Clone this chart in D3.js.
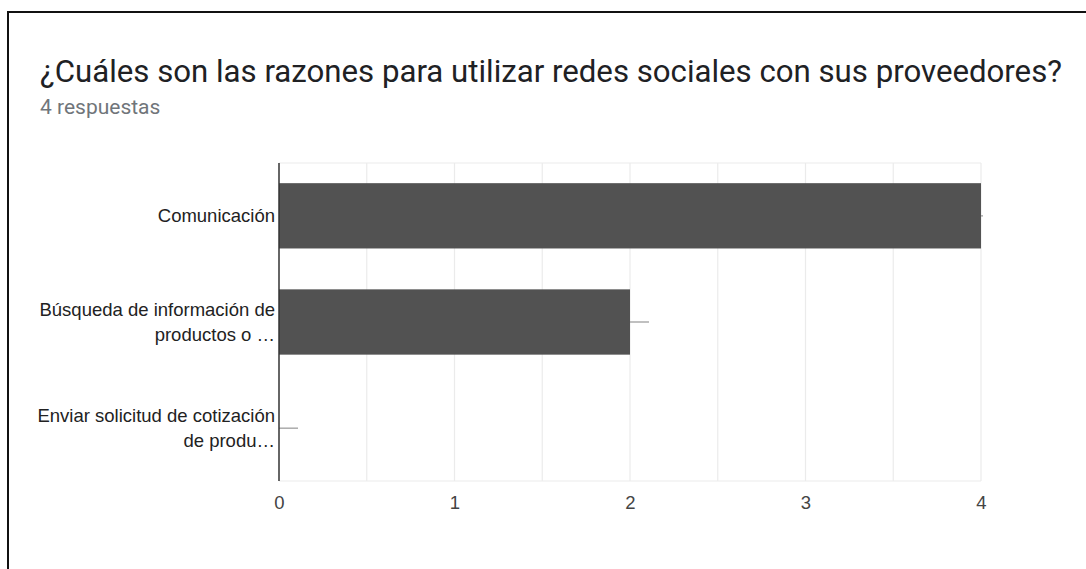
<!DOCTYPE html>
<html>
<head>
<meta charset="utf-8">
<script src="https://cdn.jsdelivr.net/npm/d3@7"></script>
<style>
  html, body { margin: 0; padding: 0; background: #fff; }
  svg { display: block; }
</style>
</head>
<body>
<svg id="chart" width="1086" height="569"></svg>
<script>
// Survey question, response count and answers
const title = "¿Cuáles son las razones para utilizar redes sociales con sus proveedores?";
const subtitle = "4 respuestas";
const categories = [
  ["Comunicación"],
  ["Búsqueda de información de", "productos o …"],
  ["Enviar solicitud de cotización", "de produ…"]
];
const values = [4, 2, 0];
const xTicks = [0, 1, 2, 3, 4];
const gridTicks = [0.5, 1, 1.5, 2, 2.5, 3, 3.5, 4];

const svg = d3.select("#chart");
const W = 1086, H = 569;

// card frame (left and top edges)
svg.append("line").attr("x1", 8).attr("x2", 8).attr("y1", 11).attr("y2", H)
  .attr("stroke", "#111").attr("stroke-width", 2);
svg.append("line").attr("x1", 7).attr("x2", W).attr("y1", 12).attr("y2", 12)
  .attr("stroke", "#111").attr("stroke-width", 2);

svg.append("text").attr("x", 40).attr("y", 82)
  .attr("font-family", "Roboto, sans-serif").attr("font-size", 31.2)
  .attr("fill", "#202124").text(title);
svg.append("text").attr("x", 40).attr("y", 114)
  .attr("font-family", "Roboto, sans-serif").attr("font-size", 21)
  .attr("fill", "#70757a").text(subtitle);

const plot = { left: 279, right: 981, top: 163, bottom: 481 };

const x = d3.scaleLinear().domain([0, 4]).range([plot.left, plot.right]);
const y = d3.scaleBand().domain(categories.map((d, i) => i))
  .range([plot.top, plot.bottom]).paddingInner(0.385).paddingOuter(0.19);

// gridlines
svg.append("g").selectAll("line").data(gridTicks).join("line")
  .attr("x1", d => x(d)).attr("x2", d => x(d))
  .attr("y1", plot.top).attr("y2", plot.bottom)
  .attr("stroke", "#ebebeb").attr("stroke-width", 1.2);
svg.append("g").selectAll("line").data([plot.top, plot.bottom]).join("line")
  .attr("x1", plot.left).attr("x2", plot.right)
  .attr("y1", d => d).attr("y2", d => d)
  .attr("stroke", "#ebebeb").attr("stroke-width", 1.2);

// bars
svg.append("g").selectAll("rect").data(values).join("rect")
  .attr("x", x(0))
  .attr("y", (d, i) => y(i))
  .attr("width", d => x(d) - x(0))
  .attr("height", y.bandwidth())
  .attr("fill", "#525252");

// small interval markers at bar ends
svg.append("g").selectAll("line").data(values).join("line")
  .attr("x1", d => x(d)).attr("x2", d => Math.min(x(d) + 19, x(4) + 2))
  .attr("y1", (d, i) => y(i) + y.bandwidth() / 2)
  .attr("y2", (d, i) => y(i) + y.bandwidth() / 2)
  .attr("stroke", "#9e9e9e").attr("stroke-width", 1.3);

// baseline
svg.append("line").attr("x1", x(0)).attr("x2", x(0))
  .attr("y1", plot.top).attr("y2", plot.bottom)
  .attr("stroke", "#333").attr("stroke-width", 1.5);

// category labels
const lineGap = 25.5;
const labels = svg.append("g").attr("font-family", "Liberation Sans, Arial, sans-serif")
  .attr("font-size", 18.5).attr("fill", "#222").attr("text-anchor", "end");
categories.forEach((lines, i) => {
  const cy = y(i) + y.bandwidth() / 2;
  const t = labels.append("text").attr("x", plot.left - 4);
  lines.forEach((ln, j) => {
    t.append("tspan").attr("x", plot.left - 4)
      .attr("y", cy + (j - (lines.length - 1) / 2) * lineGap)
      .attr("dy", "0.35em").text(ln);
  });
});

// value axis
const axis = d3.axisBottom(x).tickValues(xTicks).tickSize(0).tickPadding(0).tickFormat(d3.format("d"));
const ax = svg.append("g").attr("transform", `translate(0, ${plot.bottom + 28})`).call(axis);
ax.select(".domain").remove();
ax.selectAll("text").attr("font-family", "Liberation Sans, Arial, sans-serif")
  .attr("font-size", 18.5).attr("fill", "#444").attr("dy", "0.35em").attr("y", -6);
</script>
</body>
</html>
